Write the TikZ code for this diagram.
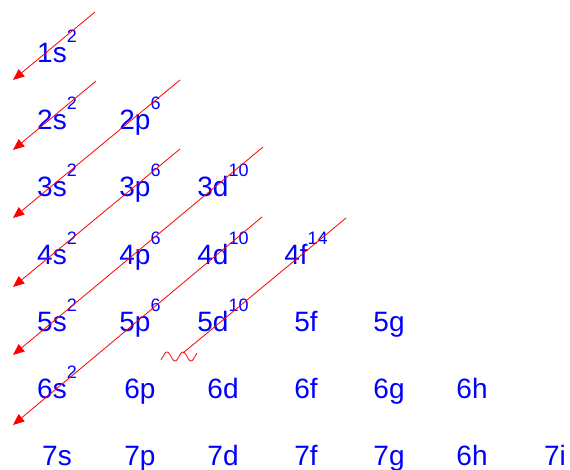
\documentclass[tikz,border=0pt]{standalone}
\usepackage{fontspec}
\setmainfont{Liberation Sans}
\usetikzlibrary{arrows.meta}
\definecolor{orbblue}{RGB}{0,0,255}
\definecolor{orbred}{RGB}{255,0,0}
\newcommand\esup[1]{\raisebox{15pt}{\fontsize{13.5}{13.5}\selectfont #1}}
\tikzset{
  orb/.style={text=orbblue, anchor=base, inner sep=0pt, font=\fontsize{21}{21}\selectfont},
  fillarr/.style={-{Triangle[length=8.5pt, width=7pt]}, orbred, line width=0.6pt},
  plainarr/.style={orbred, line width=0.6pt},
}
\begin{document}
\begin{tikzpicture}[x=0.75pt, y=-0.75pt]
    \useasboundingbox (0,0) rectangle (570,470);
    % --- orbital labels, row/column/text
    \foreach \r/\c/\t in {1/0/{1s\esup{2}},
        2/0/{2s\esup{2}}, 2/1/{2p\esup{6}},
        3/0/{3s\esup{2}}, 3/1/{3p\esup{6}}, 3/2/{3d\esup{10}},
        4/0/{4s\esup{2}}, 4/1/{4p\esup{6}}, 4/2/{4d\esup{10}}, 4/3/{4f\esup{14}},
        5/0/{5s\esup{2}}, 5/1/{5p\esup{6}}, 5/2/{5d\esup{10}}, 5/3/5f, 5/4/5g,
        6/0/{6s\esup{2}}, 6/1/6p, 6/2/6d, 6/3/6f, 6/4/6g, 6/5/6h,
        7/0/7s, 7/1/7p, 7/2/7d, 7/3/7f, 7/4/7g, 7/5/6h, 7/6/7i}{
      \node[orb] (o\r\c) at ({57+83*\c},{63+67*(\r-1)}) {\t};
    }
    % --- filling order diagonals
    \foreach \i/\tx/\ty/\bx/\by in {1/95/12/13/80, 2/96/81/13/150, 3/180/80/13/218,
        4/180/149/13/287, 5/263/147/13/355, 6/262/217/13/425}{
      \coordinate (t\i) at (\tx,\ty);
      \coordinate (b\i) at (\bx,\by);
      \draw[fillarr] (t\i) -- (b\i);
    }
    \coordinate (t7) at (346,218);
    \coordinate (b7) at (183,353);
    \draw[plainarr] (t7) -- (b7);
    % --- squiggle at the end of the last one
    \draw[plainarr, domain=161:197, samples=60, smooth]
         plot (\x, {356.5-4.5*sin(360*(\x-163)/16)});
\end{tikzpicture}
\end{document}
